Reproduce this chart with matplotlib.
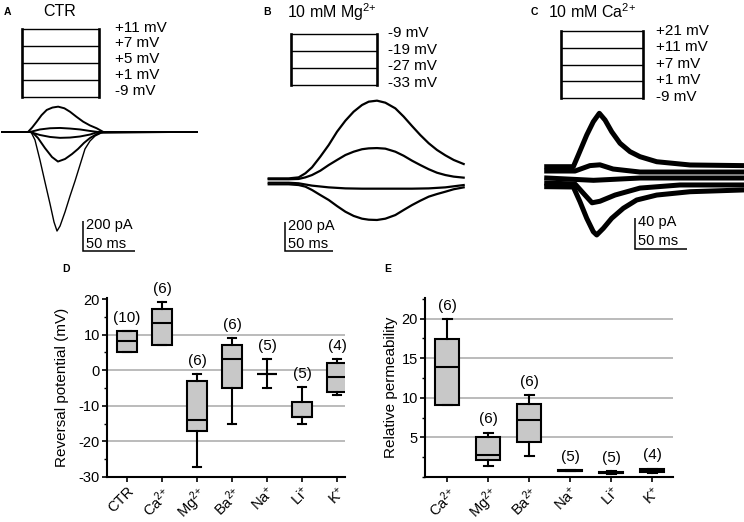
import numpy as np
import matplotlib
matplotlib.use('Agg')
import matplotlib.pyplot as plt
from matplotlib.ticker import MultipleLocator
from matplotlib.transforms import ScaledTranslation

plt.rcParams['font.family'] = ['Liberation Sans', 'DejaVu Sans']
plt.rcParams['mathtext.fontset'] = 'custom'
plt.rcParams['mathtext.rm'] = 'Liberation Sans'
plt.rcParams['mathtext.it'] = 'Liberation Sans:italic'
plt.rcParams['mathtext.bf'] = 'Liberation Sans:bold'
plt.rcParams['axes.unicode_minus'] = False

# ======================= DATA =======================
# Panel A : CTR  (time in ms, current in pA)
a_title = 'CTR'
a_steps = ['+11 mV', '+7 mV', '+5 mV', '+1 mV', '-9 mV']
a_t1 = [0, 25, 29, 33.4, 38, 43, 48.5, 54, 60, 65.4, 71.5, 78, 84.5, 91, 97.5, 187.5]
a_i1 = [0, 0, 30, 69, 112, 147, 163, 169, 158, 135, 102, 69, 44, 25, 0, 0]
a_t2 = [0, 26.9, 36.5, 46.2, 55.8, 65.4, 75, 84.6, 92.3, 187.5]
a_i2 = [0, 0, 17, 25, 27, 23, 17, 7, 0, 0]
a_t3 = [0, 26.9, 36.5, 46.2, 55.8, 65.4, 75, 84.6, 92.3, 187.5]
a_i3 = [0, 0, -20, -33, -39, -37, -30, -17, 0, 0]
a_t4 = [0, 28.8, 34.6, 41.3, 48.1, 53.8, 60.6, 67.3, 73.1, 78.8, 84.6, 91.3, 97.1, 187.5]
a_i4 = [0, 0, -40, -107, -167, -197, -180, -147, -113, -73, -40, -13, 0, 0]
a_t5 = [0, 27.9, 31.7, 36.5, 41.3, 46.2, 50, 52.9, 55.8, 60.6, 65.4, 70.2, 75, 79.8, 84.6, 89.4, 95.2, 187.5]
a_i5 = [0, 0, -53, -187, -333, -480, -600, -660, -627, -533, -427, -327, -220, -113, -60, -27, -7, 0]

# Panel B : 10 mM Mg2+
b_title = '10 mM Mg$\\mathregular{^{2{+}}}$'
b_steps = ['-9 mV', '-19 mV', '-27 mV', '-33 mV']
b_t = [0, 20.8, 31.2, 38.2, 45.1, 53.8, 62.5, 71.2, 79.9, 88.5, 97.2, 104.2, 112.8,
       121.5, 131.9, 140.6, 149.3, 157.9, 166.7, 175.3, 184, 192.7, 203.1]
b_i1 = [25, 25, 32, 60, 101, 175, 255, 347, 423, 485, 531, 554, 561,
        547, 508, 451, 386, 324, 267, 221, 184, 152, 124]
b_i2 = [19, 19, 21, 32, 48, 78, 117, 152, 186, 209, 226, 232, 234,
        230, 209, 181, 147, 117, 88, 64, 48, 37, 30]
b_i4 = [-16, -16, -21, -32, -55, -90, -124, -166, -205, -234, -253, -260, -262,
        -253, -228, -193, -159, -129, -101, -83, -67, -50, -37]
b_t3 = [0, 20.8, 31.2, 45.1, 62.5, 79.9, 97.2, 114.6, 131.9, 149.3, 166.7, 184, 203.1]
b_i3 = [-5, -5, -9, -25, -37, -44, -46, -46, -46, -46, -44, -37, -21]

# Panel C : 10 mM Ca2+
c_title = '10 mM Ca$\\mathregular{^{2{+}}}$'
c_steps = ['+21 mV', '+11 mV', '+7 mV', '+1 mV', '-9 mV']
c_t1 = [0, 25.6, 30.4, 38.5, 44.8, 50.6, 56.1, 62.5, 70.5, 80.1, 89.7, 105.8, 137.8, 187.5]
c_i1 = [14.6, 14.6, 29.7, 55.5, 72.6, 83.5, 74.8, 59.7, 44.8, 34, 27.5, 21, 16.8, 16]
c_t2 = [0, 27.2, 41.6, 51.2, 63.8, 89.7, 187.5]
c_i2 = [9, 9, 16, 17, 11.6, 7.7, 7.7]
c_t3 = [0, 45, 90, 187.5]
c_i3 = [0, -3, 0, 0]
c_t4 = [0, 27.2, 36.8, 43.6, 51.2, 65.7, 89.7, 128.2, 187.5]
c_i4 = [-6.5, -7.7, -22, -32, -30, -22, -13, -9, -9]
c_t5 = [0, 25.6, 32, 38.5, 44.8, 48.1, 54.4, 62.5, 73.7, 86.5, 105.8, 137.8, 187.5]
c_i5 = [-11.2, -11.6, -30.6, -52, -69.3, -73.5, -65, -52, -39, -28.4, -22, -17.7, -15.5]

# Panel D : reversal potential (mV)
d_cats = ['CTR', 'Ca$\\mathregular{^{2{+}}}$', 'Mg$\\mathregular{^{2{+}}}$', 'Ba$\\mathregular{^{2{+}}}$',
          'Na$\\mathregular{^{{+}}}$', 'Li$\\mathregular{^{{+}}}$', 'K$\\mathregular{^{{+}}}$']
d_med = [8.2, 13.2, -14, 3.1, -1.1, -13.1, -2.0]
d_q1 = [5.2, 7.1, -17.1, -5.1, -1.1, -13.1, -6.0]
d_q3 = [11.1, 17.1, -2.9, 7.1, -1.1, -9.0, 2.1]
d_lo = [5.2, 7.1, -27.3, -15.1, -5.1, -15.1, -7.0]
d_hi = [11.1, 19.1, -1.1, 9.1, 3.1, -4.8, 3.1]
d_n = [10, 6, 6, 6, 5, 5, 4]

# Panel E : relative permeability
e_cats = ['Ca$\\mathregular{^{2{+}}}$', 'Mg$\\mathregular{^{2{+}}}$', 'Ba$\\mathregular{^{2{+}}}$',
          'Na$\\mathregular{^{{+}}}$', 'Li$\\mathregular{^{{+}}}$', 'K$\\mathregular{^{{+}}}$']
e_med = [13.9, 2.8, 7.2, 0.8, 0.55, 0.8]
e_q1 = [9.1, 2.2, 4.4, 0.75, 0.45, 0.6]
e_q3 = [17.4, 5.0, 9.2, 0.85, 0.65, 1.0]
e_lo = [9.1, 1.4, 2.6, 0.7, 0.4, 0.55]
e_hi = [19.9, 5.6, 10.3, 0.9, 0.7, 1.05]
e_n = [6, 6, 6, 5, 5, 4]

# ======================= FIGURE =======================
W, H = 744, 522
fig = plt.figure(figsize=(W / 100, H / 100), dpi=100)


def fx(x):
    return x / W


def fy(y):
    return 1 - y / H


def trace_axes(x0, y0, sx, sy):
    ax = fig.add_axes([0, 0, 1, 1])
    ax.set_xlim(-x0 / sx, (W - x0) / sx)
    ax.set_ylim((y0 - H) / sy, y0 / sy)
    ax.set_axis_off()
    ax.patch.set_visible(False)
    return ax


def scale_bar(ax, px, py, x0, y0, sx, sy, t_len, i_len, t_text, i_text):
    t0 = (px - x0) / sx
    i0 = (y0 - py) / sy
    ax.plot([t0, t0, t0 + t_len], [i0 + i_len, i0, i0], color='black', lw=1.1,
            solid_capstyle='butt', solid_joinstyle='miter', clip_on=False)
    ax.annotate(i_text, xy=(t0, i0 + i_len), xytext=(2.0, -2.9), textcoords='offset points',
                ha='left', va='center', fontsize=10.5)
    ax.annotate(t_text, xy=(t0, i0), xytext=(2.0, 5.6), textcoords='offset points',
                ha='left', va='center', fontsize=10.5)


def step_box(left, right, top, bottom, labels, lab_x, lab_top, lab_bot):
    n = len(labels)
    ax = fig.add_axes([fx(left), fy(bottom), (right - left) / W, (bottom - top) / H])
    ax.set_xlim(0, 1)
    ax.set_ylim(0, n - 1)
    ax.set_axis_off()
    for k in range(n):
        ax.plot([0, 1], [k, k], color='black', lw=1.0, clip_on=False, solid_capstyle='butt')
    for xv in (0, 1):
        ax.plot([xv, xv], [0, n - 1], color='black', lw=1.9, clip_on=False, solid_capstyle='projecting')
    for lab, yy in zip(labels, np.linspace(lab_top, lab_bot, n)):
        fig.text(fx(lab_x), fy(yy), lab, ha='left', va='center', fontsize=11)


def header(letter, lx, title, tx, y=12):
    fig.text(fx(lx), fy(y), letter, ha='left', va='center', fontsize=7.5, fontweight='bold')
    fig.text(fx(tx), fy(y), title, ha='left', va='center', fontsize=11.5)


# ---- Panel A ----
header('A', 4, a_title, 43)
step_box(21.7, 99.3, 29, 96.7, a_steps, 115, 27.7, 90.7)
A = dict(x0=2, y0=132, sx=1.04, sy=0.15)
axA = trace_axes(A['x0'], A['y0'], A['sx'], A['sy'])
for t, i, lw in [(a_t1, a_i1, 1.4), (a_t2, a_i2, 1.4), (a_t3, a_i3, 1.4), (a_t4, a_i4, 1.4), (a_t5, a_i5, 1.0)]:
    axA.plot(t, i, color='black', lw=lw)
scale_bar(axA, 83.3, 251.3, A['x0'], A['y0'], A['sx'], A['sy'], 50, 200, '50 ms', '200 pA')

# ---- Panel B ----
header('B', 263, b_title, 286.7)
step_box(290.7, 376.7, 34, 85, b_steps, 388.3, 32.7, 83.3)
B = dict(x0=268.7, y0=182, sx=0.96, sy=0.145)
axB = trace_axes(B['x0'], B['y0'], B['sx'], B['sy'])
for t, i in [(b_t, b_i1), (b_t, b_i2), (b_t3, b_i3), (b_t, b_i4)]:
    axB.plot(t, i, color='black', lw=1.6)
scale_bar(axB, 285.3, 251.3, B['x0'], B['y0'], B['sx'], B['sy'], 50, 200, '50 ms', '200 pA')

# ---- Panel C ----
header('C', 530.7, c_title, 548.3)
step_box(560.7, 642.7, 30.7, 98.3, c_steps, 655.7, 30.7, 96.7)
C = dict(x0=546.7, y0=178, sx=1.04, sy=0.775)
axC = trace_axes(C['x0'], C['y0'], C['sx'], C['sy'])
for t, i in [(c_t1, c_i1), (c_t2, c_i2), (c_t3, c_i3), (c_t4, c_i4), (c_t5, c_i5)]:
    axC.plot(t, i, color='black', lw=3.6, solid_joinstyle='round')
scale_bar(axC, 635, 249, C['x0'], C['y0'], C['sx'], C['sy'], 50, 40, '50 ms', '40 pA')


# ---- Box plots ----
def box_panel(rect, cats, med, q1, q3, lo, hi, ns, ylim, xlim, major, minor, grid_vals, ylabel, labelpad):
    ax = fig.add_axes(rect)
    stats = [dict(med=m, q1=a, q3=b, whislo=l, whishi=h, fliers=[])
             for m, a, b, l, h in zip(med, q1, q3, lo, hi)]
    for g in grid_vals:
        ax.axhline(g, color='#b5b5b5', lw=1.3, zorder=0.5)
    ax.bxp(stats, positions=list(range(len(cats))), widths=0.58, capwidths=0.22,
           patch_artist=True, showfliers=False, manage_ticks=False,
           boxprops=dict(facecolor='#c8c8c8', edgecolor='black', linewidth=1.5),
           medianprops=dict(color='black', linewidth=1.5),
           whiskerprops=dict(color='black', linewidth=1.5),
           capprops=dict(color='black', linewidth=1.5))
    for k, (h, n) in enumerate(zip(hi, ns)):
        ax.annotate('(%d)' % n, xy=(k, h), xytext=(0, 9.5), textcoords='offset points',
                    ha='center', va='center', fontsize=11)
    ax.set_xlim(*xlim)
    ax.set_ylim(*ylim)
    ax.set_xticks(range(len(cats)))
    ax.set_xticklabels(cats, rotation=45, ha='right', va='top', rotation_mode='anchor', fontsize=10.5)
    shift = ScaledTranslation(7 / 100, 7.5 / 100, fig.dpi_scale_trans)
    for lab in ax.get_xticklabels():
        lab.set_transform(lab.get_transform() + shift)
    ax.set_yticks(major)
    ax.set_yticklabels([str(v) for v in major], fontsize=10.5)
    ax.yaxis.set_minor_locator(MultipleLocator(minor))
    ax.tick_params(axis='both', which='major', direction='out', length=3.5, width=1.2, pad=1.5)
    ax.tick_params(axis='y', which='minor', direction='out', length=2.2, width=1.0)
    for s in ('top', 'right'):
        ax.spines[s].set_visible(False)
    for s in ('left', 'bottom'):
        ax.spines[s].set_linewidth(1.5)
    ax.set_ylabel(ylabel, fontsize=11, labelpad=labelpad)
    ax.patch.set_visible(False)
    return ax


box_panel([fx(107), fy(477), (345 - 107) / W, (477 - 298) / H], d_cats, d_med, d_q1, d_q3,
          d_lo, d_hi, d_n, (-30, 20.3), (-0.57, 6.23), [-30, -20, -10, 0, 10, 20], 5,
          [-20, -10, 0, 10], 'Reversal potential (mV)', 7)
fig.text(fx(62.7), fy(269), 'D', ha='left', va='center', fontsize=7.5, fontweight='bold')

box_panel([fx(425), fy(477), (673 - 425) / W, (477 - 298) / H], e_cats, e_med, e_q1, e_q3,
          e_lo, e_hi, e_n, (0, 22.6), (-0.54, 5.51), [5, 10, 15, 20], 2.5,
          [5, 10, 15, 20], 'Relative permeability', 3)
fig.text(fx(384), fy(269), 'E', ha='left', va='center', fontsize=7.5, fontweight='bold')

fig.savefig('out.png', dpi=100)
